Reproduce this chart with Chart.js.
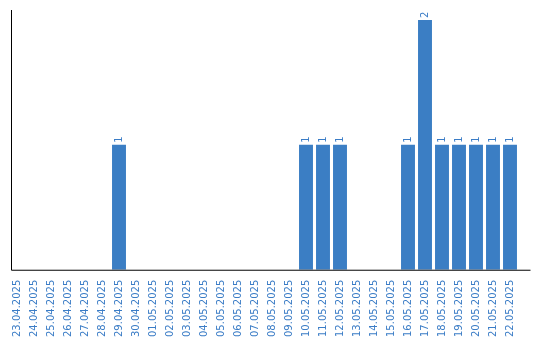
<!DOCTYPE html>
<html>
<head>
  <meta charset="UTF-8">
  <title>Clicks per day</title>
  <script src="https://cdn.jsdelivr.net/npm/chart.js"></script>
  <style>
    html, body { margin: 0; padding: 0; background: #fff; }
    #wrap { width: 540px; height: 340px; }
  </style>
</head>
<body>
  <div id="wrap"><canvas id="clicksChart"></canvas></div>
  <script>
    const days = [
      '23.04.2025', '24.04.2025', '25.04.2025', '26.04.2025', '27.04.2025',
      '28.04.2025', '29.04.2025', '30.04.2025', '01.05.2025', '02.05.2025',
      '03.05.2025', '04.05.2025', '05.05.2025', '06.05.2025', '07.05.2025',
      '08.05.2025', '09.05.2025', '10.05.2025', '11.05.2025', '12.05.2025',
      '13.05.2025', '14.05.2025', '15.05.2025', '16.05.2025', '17.05.2025',
      '18.05.2025', '19.05.2025', '20.05.2025', '21.05.2025', '22.05.2025'
    ];
    const clicks = [
      0, 0, 0, 0, 0,
      0, 1, 0, 0, 0,
      0, 0, 0, 0, 0,
      0, 0, 1, 1, 1,
      0, 0, 0, 1, 2,
      1, 1, 1, 1, 1
    ];

    const blue = '#3b7ec4';
    const textBlue = '#3a7cc6';

    // axis lines + rotated value labels above bars
    const barExtras = {
      id: 'barExtras',
      afterDatasetsDraw(chart) {
        const ctx = chart.ctx;
        const area = chart.chartArea;
        ctx.save();
        ctx.strokeStyle = '#000';
        ctx.lineWidth = 1;
        ctx.beginPath();
        ctx.moveTo(area.left + 3, area.top);
        ctx.lineTo(area.left + 3, area.bottom + 0.5);
        ctx.lineTo(area.right + 12, area.bottom + 0.5);
        ctx.stroke();

        ctx.fillStyle = textBlue;
        ctx.font = '10px "DejaVu Sans"';
        ctx.textAlign = 'left';
        ctx.textBaseline = 'middle';
        chart.getDatasetMeta(0).data.forEach((bar, i) => {
          const v = clicks[i];
          if (!v) return;
          ctx.save();
          ctx.translate(bar.x, bar.y - 2);
          ctx.rotate(-Math.PI / 2);
          ctx.fillText(String(v), 0, 0);
          ctx.restore();
        });
        ctx.restore();
      }
    };

    new Chart(document.getElementById('clicksChart'), {
      type: 'bar',
      data: {
        labels: days,
        datasets: [{
          data: clicks,
          backgroundColor: blue,
          borderWidth: 0,
          barPercentage: 0.82,
          categoryPercentage: 1
        }]
      },
      options: {
        responsive: true,
        maintainAspectRatio: false,
        animation: false,
        layout: { padding: { left: 8.5, right: 21.5, top: 10, bottom: 1 } },
        plugins: {
          legend: { display: false },
          tooltip: { enabled: false }
        },
        scales: {
          x: {
            grid: { display: false },
            border: { display: false },
            ticks: {
              color: textBlue,
              font: { family: 'DejaVu Sans', size: 10 },
              minRotation: 90,
              maxRotation: 90,
              autoSkip: false,
              padding: 2
            }
          },
          y: {
            display: false,
            min: 0,
            max: 2.08
          }
        }
      },
      plugins: [barExtras]
    });
  </script>
</body>
</html>
